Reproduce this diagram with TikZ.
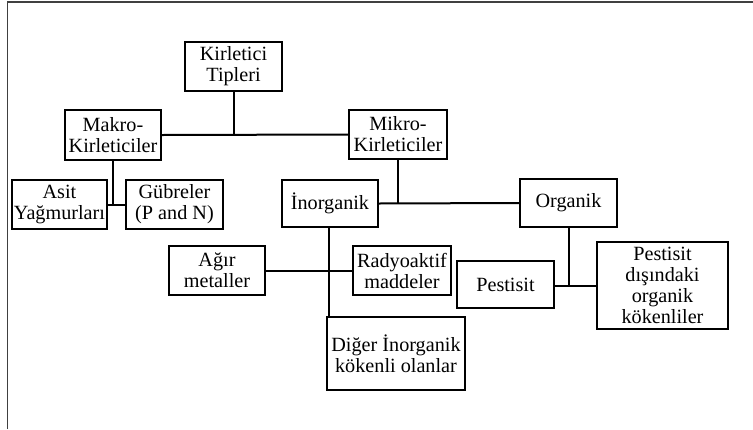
\documentclass[tikz,border=0pt]{standalone}
\usepackage{fontspec}
\setmainfont{Liberation Serif}
\usepackage{tikz}
\usetikzlibrary{positioning}
\tikzstyle{kutu} = [rectangle, draw=black, line width=2pt, inner sep=0pt, align=center, font=\fontsize{20.2}{21}\selectfont, minimum width=97pt, minimum height=49pt]
\tikzstyle{hat} = [line width=2pt]
\tikzstyle{cerceve} = [line width=1.2pt, draw=black!75]

\begin{document}
\begin{tikzpicture}[x=1pt, y=-1pt]
		\useasboundingbox (0,0) rectangle (753,429);
		\draw [cerceve] (7.5,429) -- (7.5,2) -- (753,2);
		\node (tip) [kutu] at (233.5,66.5) {Kirletici\\Tipleri};
		\node (makro) [kutu, minimum width=96pt, minimum height=50pt] at (113,135) {Makro-\\Kirleticiler};
		\node (mikro) [kutu, minimum width=98pt] at (398,134.5) {Mikro-\\Kirleticiler};
		\node (asit) [kutu, minimum width=95pt] at (59.5,204.5) {Asit\\Yağmurları};
		\node (gubre) [kutu] at (174.5,204.5) {Gübreler\\(P and N)};
		\node (inorg) [kutu, minimum width=96pt, minimum height=47pt] at (330,203.5) {İnorganik};
		\node (org) [kutu, minimum height=48pt] at (568.5,203) {Organik};
		\node (agir) [kutu, minimum width=96pt] at (217,270.5) {Ağır\\metaller};
		\node (radyo) [kutu, minimum width=98pt] at (402,270.5) {Radyoaktif\\maddeler};
		\node (diger) [kutu, minimum width=138pt, minimum height=73pt] at (396,353.5) {Diğer İnorganik\\kökenli olanlar};
		\node (pest) [kutu, minimum height=47pt] at (505.5,284.5) {Pestisit};
		\node (pdo) [kutu, minimum width=131pt, minimum height=87pt] at (662.5,285.5) {Pestisit\\dışındaki\\organik\\kökenliler};
		\draw [hat] (tip.south) -- (tip.south |- makro.east);
		\draw [hat] (makro.east) -- (mikro.west);
		\draw [hat] (makro.south) -- (makro.south |- asit.east);
		\draw [hat] (asit.east) -- (gubre.west);
		\draw [hat] (mikro.south) -- (mikro.south |- inorg.east);
		\draw [hat] (inorg.east) -- (org.west);
		\draw [hat] ([xshift=-1pt]inorg.south) -- ([xshift=-1pt]inorg.south |- diger.north);
		\draw [hat] (agir.east) -- (radyo.west);
		\draw [hat] (org.south) -- (org.south |- pdo.west);
		\draw [hat] (pest.east |- pdo.west) -- (pdo.west);
		\end{tikzpicture}
\end{document}
